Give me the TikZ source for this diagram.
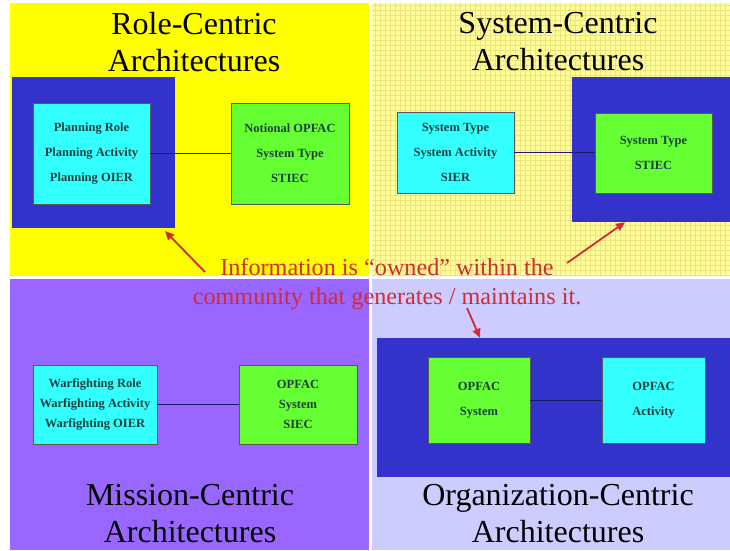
\documentclass[tikz,border=0pt]{standalone}
\usepackage{fontspec}
\setmainfont{Liberation Serif}
\usetikzlibrary{arrows.meta}

\definecolor{roleyellow}{HTML}{FFFF00}
\definecolor{syspale}{HTML}{FFFF99}
\definecolor{sysgrid}{HTML}{F0E27A}
\definecolor{missionpurple}{HTML}{9966FF}
\definecolor{orglavender}{HTML}{CCCCFF}
\definecolor{ownerblue}{HTML}{3333CC}
\definecolor{boxcyan}{HTML}{33FFFF}
\definecolor{boxgreen}{HTML}{66FF33}
\definecolor{boxtext}{HTML}{1F3F3F}
\definecolor{notered}{HTML}{D42A35}
\definecolor{linknavy}{HTML}{1A1A66}

\tikzset{
  owner/.style={fill=ownerblue, draw=none, inner sep=0pt},
  entity/.style={draw=black!65, line width=0.6pt, inner sep=0pt, align=center,
    text=boxtext, font=\fontsize{12.5}{25}\selectfont\bfseries},
  title/.style={align=center, text=black, font=\fontsize{32}{37}\selectfont},
  link/.style={draw=linknavy, line width=0.9pt},
  owns/.style={draw=notered, line width=1.8pt, -{Triangle[length=9pt,width=8pt]}}
}

\begin{document}
\begin{tikzpicture}[x=1pt, y=-1pt]
  % page area
  \fill[white] (0,0) rectangle (730,550);
  \useasboundingbox (0,0) rectangle (730,550);

  % four quadrants
  \fill[roleyellow]    (10,3)   rectangle (369,276);
  \fill[syspale]       (372,3)  rectangle (730,276);
  \begin{scope}
    \clip (372,3) rectangle (730,276);
    \draw[sysgrid, line width=0.4pt, step=5pt] (372,3) grid (730,276);
  \end{scope}
  \fill[missionpurple] (10,279) rectangle (369,550);
  \fill[orglavender]   (372,279) rectangle (730,550);

  % ---- Role-centric ----
  \node[title] (t1) at (194,42) {Role-Centric\\Architectures};
  \node[owner, minimum width=163pt, minimum height=151pt] (o1) at (93.5,152.5) {};
  \node[entity, fill=boxcyan, minimum width=117pt, minimum height=101pt] (a1) at (91.5,153.5)
    {Planning Role\\Planning Activity\\Planning OIER};
  \node[entity, fill=boxgreen, minimum width=118pt, minimum height=101pt] (b1) at (290,153.5)
    {Notional OPFAC\\System Type\\STIEC};
  \draw[link] (a1.east) -- (b1.west);

  % ---- System-centric ----
  \node[title] (t2) at (558,42) {System-Centric\\Architectures};
  \node[owner, minimum width=160pt, minimum height=145pt] (o2) at (652,149.5) {};
  \node[entity, fill=boxcyan, minimum width=117pt, minimum height=81pt] (a2) at (455.5,152.5)
    {System Type\\System Activity\\SIER};
  \node[entity, fill=boxgreen, minimum width=117pt, minimum height=80pt] (b2) at (653.5,153)
    {System Type\\STIEC};
  \draw[link] (a2.east) -- (a2.east -| b2.west);

  % ---- Mission-centric ----
  \node[title] (t3) at (190,514) {Mission-Centric\\Architectures};
  \node[entity, fill=boxcyan, minimum width=124pt, minimum height=79pt,
    font=\fontsize{12.5}{20}\selectfont\bfseries] (a3) at (95,404.5)
    {Warfighting Role\\Warfighting Activity\\Warfighting OIER};
  \node[entity, fill=boxgreen, minimum width=118pt, minimum height=79pt,
    font=\fontsize{12.5}{20}\selectfont\bfseries] (b3) at (298,404.5)
    {OPFAC\\System\\SIEC};
  \draw[link] (a3.east) -- (b3.west);

  % ---- Organization-centric ----
  \node[title] (t4) at (558,514) {Organization-Centric\\Architectures};
  \node[owner, minimum width=355pt, minimum height=139pt] (o4) at (554.5,407.5) {};
  \node[entity, fill=boxgreen, minimum width=102pt, minimum height=86pt] (a4) at (479,400)
    {OPFAC\\System};
  \node[entity, fill=boxcyan, minimum width=103pt, minimum height=86pt] (b4) at (653.5,400)
    {OPFAC\\Activity};
  \draw[link] (a4.east) -- (b4.west);

  % ---- ownership note ----
  \node[align=center, text=notered, font=\fontsize{24.2}{29}\selectfont] (note) at (387,284)
    {Information is “owned” within the\\community that generates / maintains it.};
  \coordinate (n1) at (205,272);
  \coordinate (n2) at (567,263);
  \coordinate (n3) at (467,308);
  \draw[owns] (n1) -- (165,231);
  \draw[owns] (n2) -- (625,222 |- o2.south);
  \draw[owns] (n3) -- (480,338 |- o4.north);
\end{tikzpicture}
\end{document}
